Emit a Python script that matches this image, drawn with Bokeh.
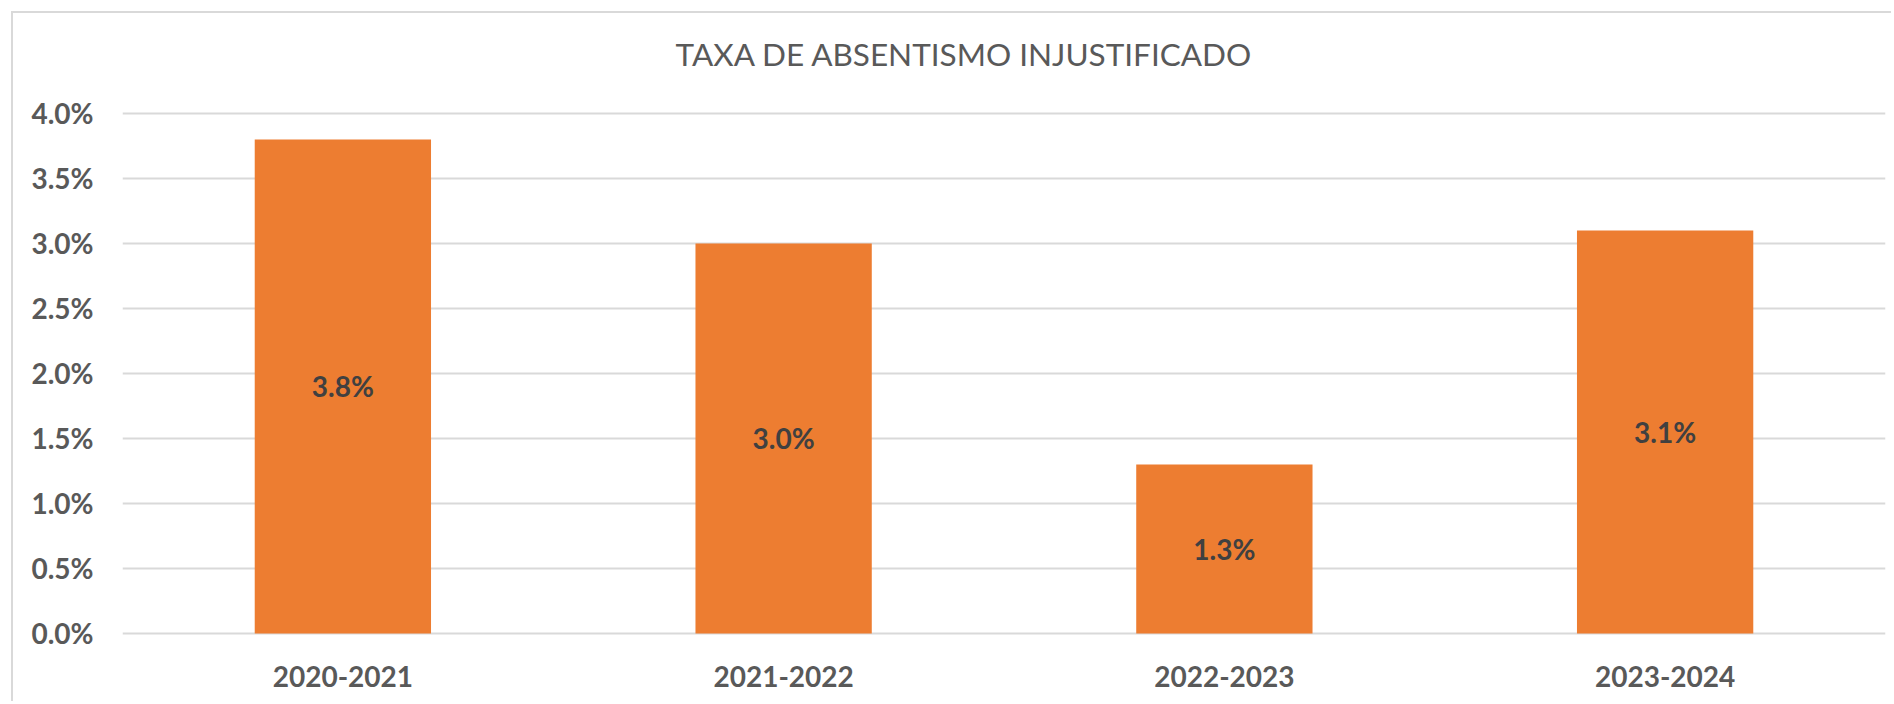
from bokeh.plotting import figure
from bokeh.models import ColumnDataSource, FactorRange, Range1d, FixedTicker, PrintfTickFormatter
from bokeh.core.properties import value
from bokeh.embed import file_html
from bokeh.resources import INLINE

# data
categories = ["2020-2021", "2021-2022", "2022-2023", "2023-2024"]
rates = [3.8, 3.0, 1.3, 3.1]
y_ticks = [0.0, 0.5, 1.0, 1.5, 2.0, 2.5, 3.0, 3.5, 4.0]
title_text = "TAXA DE ABSENTISMO INJUSTIFICADO"

labels = [f"{v:.1f}%" for v in rates]
mids = [v / 2 for v in rates]
src = ColumnDataSource(dict(cat=categories, rate=rates, mid=mids, label=labels))

FONT = "Lato"
GREY = "#595959"

p = figure(
    x_range=FactorRange(*categories),
    y_range=Range1d(-0.0154, 4.2923),
    width=1880, height=690,
    min_border_left=109, min_border_right=8, min_border_top=62, min_border_bottom=68,
    output_backend="svg", toolbar_location=None,
    title=title_text,
    styles={"margin-left": "11px", "margin-top": "11px",
            "border-left": "2px solid #d9d9d9", "border-top": "2px solid #d9d9d9"},
)
p.outline_line_color = None
p.background_fill_color = "white"
p.border_fill_color = "white"

p.title.align = "left"
p.title.offset = 553
p.title.standoff = 5
p.title.text_font = FONT
p.title.text_font_style = "normal"
p.title.text_font_size = "31.5px"
p.title.text_color = GREY

p.vbar(x="cat", top="rate", bottom=0, width=0.4, source=src,
       fill_color="#ED7D31", line_color=None)

p.text(x="cat", y="mid", text="label", source=src,
       text_font=value(FONT), text_font_style="bold", text_font_size="28px",
       text_color="#404040", text_align="center", text_baseline="middle")

# axes
p.yaxis.ticker = FixedTicker(ticks=y_ticks)
p.yaxis.formatter = PrintfTickFormatter(format="%.1f%%")
for ax in (p.xaxis, p.yaxis):
    ax.axis_line_color = None
    ax.major_tick_line_color = None
    ax.minor_tick_line_color = None
    ax.major_label_text_font = FONT
    ax.major_label_text_font_style = "bold"
    ax.major_label_text_font_size = "28px"
    ax.major_label_text_color = GREY
p.yaxis.major_label_standoff = 23
p.xaxis.major_label_standoff = 24

p.xgrid.grid_line_color = None
p.ygrid.grid_line_color = "#d9d9d9"
p.ygrid.grid_line_width = 2

open("out.html", "w").write(file_html(p, INLINE))
